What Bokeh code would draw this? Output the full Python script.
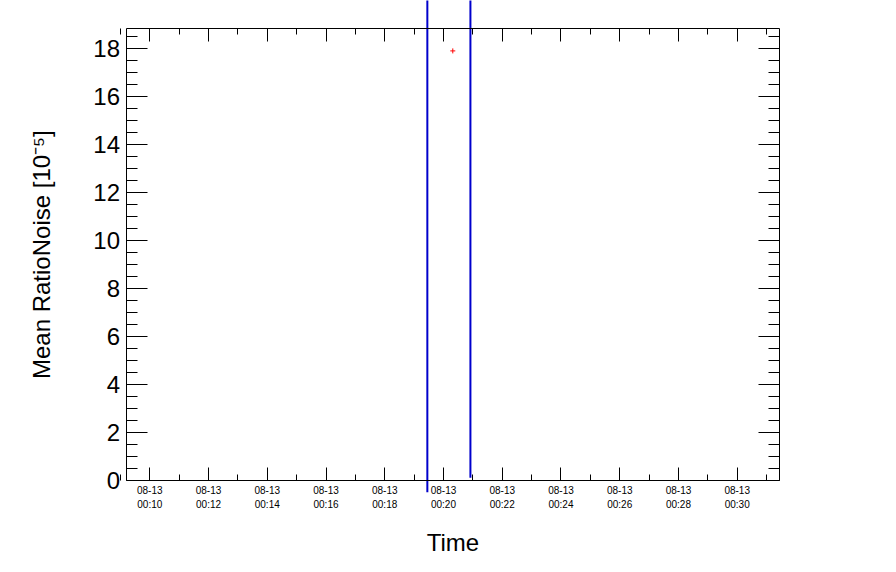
import math
from bokeh.plotting import figure
from bokeh.models import (LinearAxis, FixedTicker, Range1d, ColumnDataSource, Label)
from bokeh.embed import file_html
from bokeh.resources import INLINE

# ---- data ----
date_label = "08-13"
tick_minutes = [10, 12, 14, 16, 18, 20, 22, 24, 26, 28, 30]
minor_minutes = [9, 11, 13, 15, 17, 19, 21, 23, 25, 27, 29, 31]
y_ticks = [0, 2, 4, 6, 8, 10, 12, 14, 16, 18]
y_minor = [v * 0.5 for v in range(0, 38)]

point_times = ["00:20:19"]
point_values = [17.9]

line_times = ["00:19:27", "00:20:55"]
line_y_start = [-0.49, 0.11]
line_y_end = [20.5, 20.5]

# axis box (the drawn frame) and the full canvas extent in data units
box_x = (9.19, 31.45)
box_y = (0.0, 18.82)
canvas_x = (4.917, 34.879)
canvas_y = (-3.1667, 20.0)


def to_min(t):
    h, m, s = (int(v) for v in t.split(":"))
    return h * 60 + m + s / 60.0


FONT = "Liberation Sans"

p = figure(width=880, height=556, output_backend="svg", toolbar_location=None,
           x_range=Range1d(*canvas_x), y_range=Range1d(*canvas_y),
           x_axis_location=None, y_axis_location=None,
           min_border_left=0, min_border_right=0, min_border_top=0, min_border_bottom=0)
p.grid.visible = False
p.outline_line_color = None
p.background_fill_color = "white"
p.border_fill_color = "white"

overrides = {m: f"{date_label}\n{m // 60:02d}:{m % 60:02d}" for m in tick_minutes}


def style_axis(ax, major_in, minor_in, labels):
    ax.major_tick_in = major_in
    ax.major_tick_out = 0
    ax.minor_tick_in = minor_in
    ax.minor_tick_out = 0
    ax.axis_line_color = "black"
    ax.axis_line_width = 1
    ax.major_tick_line_color = "black"
    ax.minor_tick_line_color = "black"
    ax.major_label_text_color = "black"
    if not labels:
        ax.major_label_text_font_size = "0px"
        ax.major_label_text_alpha = 0


xt = FixedTicker(ticks=tick_minutes, minor_ticks=minor_minutes)
yt = FixedTicker(ticks=y_ticks, minor_ticks=y_minor)

bottom = LinearAxis(ticker=xt, major_label_overrides=overrides,
                    fixed_location=box_y[0], bounds=box_x)
style_axis(bottom, 13, 6, True)
bottom.major_label_text_font = FONT
bottom.major_label_text_font_size = "10px"
bottom.major_label_standoff = 5
p.add_layout(bottom, "below")

top = LinearAxis(ticker=xt, fixed_location=box_y[1], bounds=box_x)
style_axis(top, 13, 6, False)
p.add_layout(top, "above")

left = LinearAxis(ticker=yt, fixed_location=box_x[0], bounds=box_y)
style_axis(left, 21, 11, True)
left.major_label_text_font = FONT
left.major_label_text_font_size = "24px"
left.major_label_standoff = 6
p.add_layout(left, "left")

right = LinearAxis(ticker=yt, fixed_location=box_x[1], bounds=box_y)
style_axis(right, 21, 11, False)
p.add_layout(right, "right")

# axis titles
p.add_layout(Label(x=(box_x[0] + box_x[1]) / 2, y=-2.6, text="Time",
                   text_font=FONT, text_font_size="24px", text_color="black",
                   text_align="center", text_baseline="middle"))
p.add_layout(Label(x=6.313, y=(box_y[0] + box_y[1]) / 2,
                   text="Mean RatioNoise [10\u207b\u2075]", angle=math.pi / 2,
                   text_font=FONT, text_font_size="24px", text_color="black",
                   text_align="center", text_baseline="middle"))

# blue vertical lines
lsrc = ColumnDataSource(dict(x=[to_min(t) for t in line_times],
                             y0=line_y_start, y1=line_y_end))
p.segment(x0="x", y0="y0", x1="x", y1="y1", source=lsrc,
          line_color="#0000cc", line_width=2)

src = ColumnDataSource(dict(x=[to_min(t) for t in point_times], y=point_values))
p.scatter("x", "y", source=src, marker="cross", size=5, line_color="red", line_width=1)

open("out.html", "w").write(file_html(p, INLINE))
